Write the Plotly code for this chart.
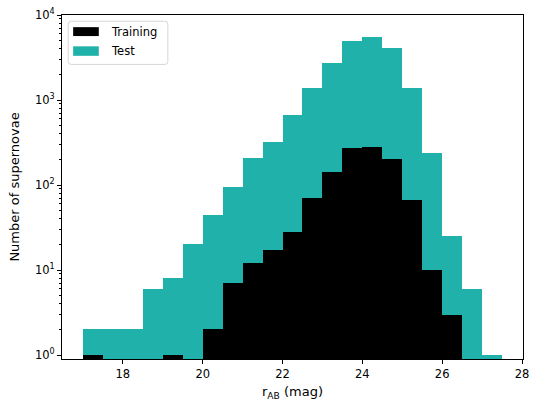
import plotly.graph_objects as go

# Bin edges (r_AB magnitude) and counts per bin
bin_edges = [17.0, 17.5, 18.0, 18.5, 19.0, 19.5, 20.0, 20.5, 21.0, 21.5, 22.0,
             22.5, 23.0, 23.5, 24.0, 24.5, 25.0, 25.5, 26.0, 26.5, 27.0, 27.5]
test_counts = [2, 2, 2, 6, 8, 20, 45, 95, 210, 325, 660,
               1370, 2710, 4990, 5500, 4100, 1400, 240, 25, 6, 1]
train_counts = [1, 0, 0, 0, 1, 0, 2, 7, 12, 17, 28,
                70, 144, 271, 282, 202, 67, 10, 3, 0, 0]
x_ticks = [18, 20, 22, 24, 26, 28]
y_ticks = [1, 10, 100, 1000, 10000]
y_tick_text = ["10<sup>0</sup>", "10<sup>1</sup>", "10<sup>2</sup>", "10<sup>3</sup>", "10<sup>4</sup>"]

centers = [(a + b) / 2 for a, b in zip(bin_edges[:-1], bin_edges[1:])]
widths = [b - a for a, b in zip(bin_edges[:-1], bin_edges[1:])]

TEAL = "#20B2AA"
FONT = "DejaVu Sans"

fig = go.Figure()
fig.add_trace(go.Bar(x=centers, y=[v if v > 0 else None for v in test_counts], width=widths,
                     marker=dict(color=TEAL, line=dict(width=0)), name="Test", showlegend=False))
fig.add_trace(go.Bar(x=centers, y=[v if v > 0 else None for v in train_counts], width=widths,
                     marker=dict(color="black", line=dict(width=0)), name="Training", showlegend=False))

# plot area in pixels: x 62..529.3, y 11..359
L, R, T, B = 62, 536 - 529.3, 11, 408 - 359
PW, PH = 536 - L - R, 408 - T - B

def px(xp):
    return (xp - L) / PW

def py(yp):
    return (408 - B - yp) / PH

shapes = []
# legend frame (rounded)
x0, x1, y0, y1 = px(68.3), px(169.3), py(61), py(17.3)
rx, ry = 3 / PW, 3 / PH
path = (f"M {x0+rx},{y1} L {x1-rx},{y1} Q {x1},{y1} {x1},{y1-ry} L {x1},{y0+ry} "
        f"Q {x1},{y0} {x1-rx},{y0} L {x0+rx},{y0} Q {x0},{y0} {x0},{y0+ry} "
        f"L {x0},{y1-ry} Q {x0},{y1} {x0+rx},{y1} Z")
shapes.append(dict(type="path", xref="paper", yref="paper", path=path,
                   fillcolor="rgba(255,255,255,0.8)", line=dict(color="#d6d6d6", width=1)))
shapes.append(dict(type="rect", xref="paper", yref="paper", x0=px(73.3), x1=px(99.3),
                   y0=py(32.3), y1=py(23.3), fillcolor="black", line=dict(width=0)))
shapes.append(dict(type="rect", xref="paper", yref="paper", x0=px(73.3), x1=px(99.3),
                   y0=py(52.3), y1=py(42.7), fillcolor=TEAL, line=dict(width=0)))

annotations = [
    dict(text="Training", xref="paper", yref="paper", x=px(110), y=py(28), xanchor="left",
         yanchor="middle", showarrow=False, font=dict(family=FONT, size=11.5, color="black")),
    dict(text="Test", xref="paper", yref="paper", x=px(110), y=py(47.5), xanchor="left",
         yanchor="middle", showarrow=False, font=dict(family=FONT, size=11.5, color="black")),
]

fig.update_layout(
    width=536, height=408,
    margin=dict(l=L, r=R, t=T, b=B, pad=0),
    paper_bgcolor="white", plot_bgcolor="white",
    barmode="overlay", bargap=0,
    font=dict(family=FONT, size=11.5, color="black"),
    shapes=shapes, annotations=annotations,
    xaxis=dict(range=[16.475, 28.025], tickvals=x_ticks, ticks="outside", ticklen=4,
               tickwidth=1, tickcolor="black", showline=True, linecolor="black", linewidth=1,
               mirror=True, showgrid=False, zeroline=False,
               title=dict(text="r<sub>AB</sub> (mag)", standoff=7, font=dict(size=13))),
    yaxis=dict(type="log", range=[-0.046, 4], tickvals=y_ticks, ticktext=y_tick_text,
               ticks="outside", ticklen=4, tickwidth=1, tickcolor="black", showline=True,
               linecolor="black", linewidth=1, mirror=True, showgrid=False, zeroline=False,
               minor=dict(ticks="outside", ticklen=2, tickwidth=0.8, tickcolor="black",
                          showgrid=False,
                          tickvals=[m * 10 ** e for e in range(4) for m in range(2, 10)]),
               title=dict(text="Number of supernovae", standoff=12, font=dict(size=13))),
)

fig.write_html("out.html", config={"displayModeBar": False},
               post_script="document.body.style.margin='0';document.body.style.overflow='hidden';")
